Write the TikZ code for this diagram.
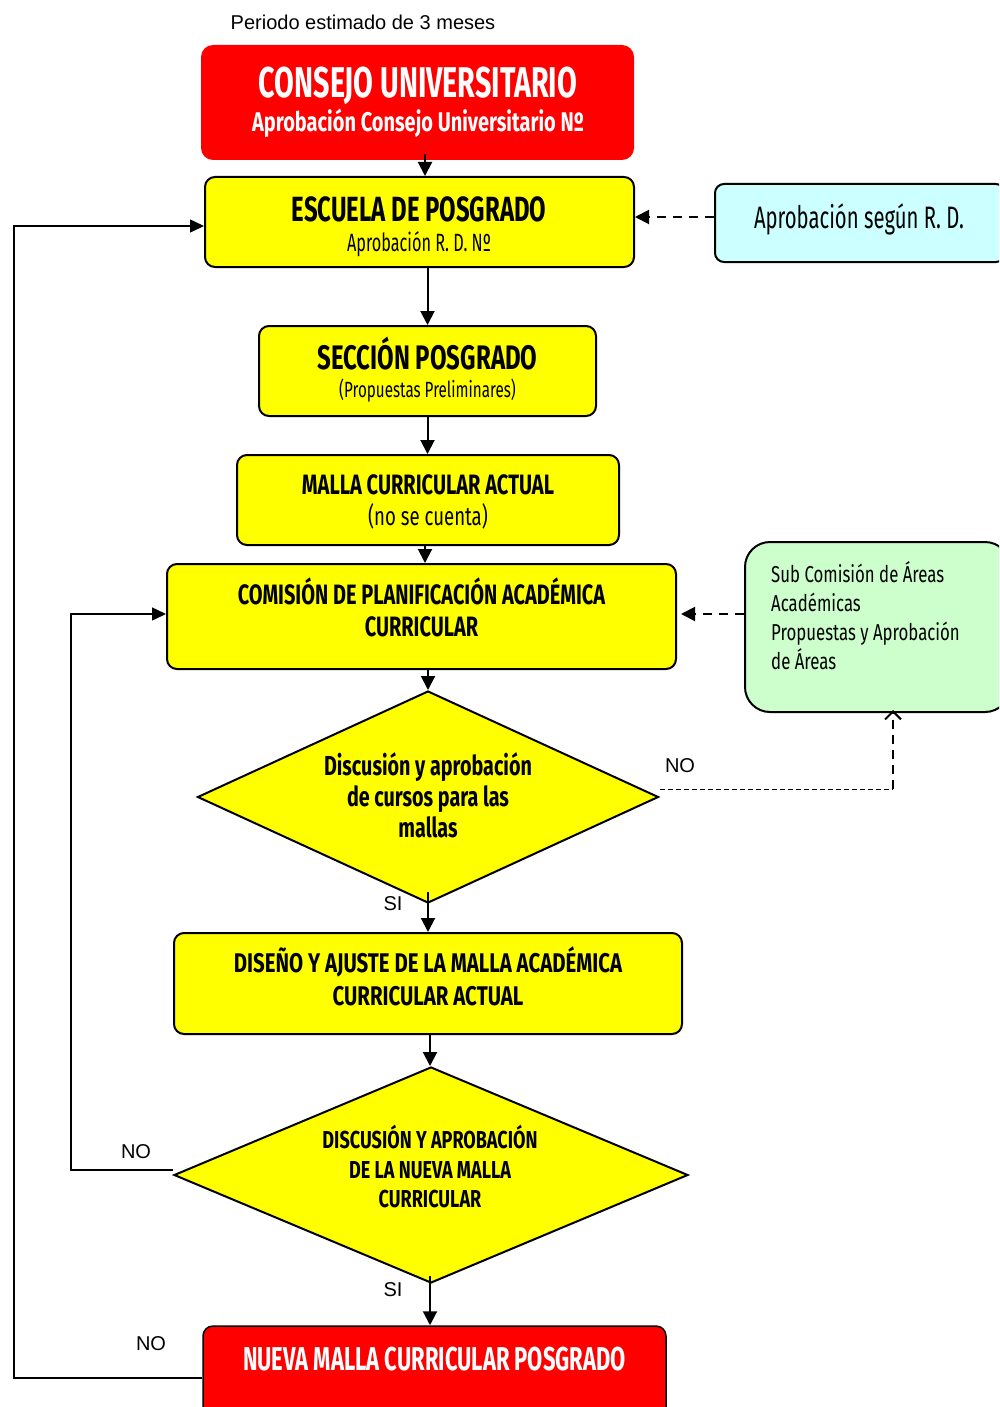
\documentclass[tikz,border=0pt]{standalone}
\usepackage{fontspec}
\setmainfont{Liberation Sans}
\usetikzlibrary{shapes.geometric,arrows.meta}
% condensed heading face: horizontal stretch factor, size
\newcommand\agb[2]{\fontspec{Fira Sans}[FakeStretch=#1]\bfseries\fontsize{#2}{#2}\selectfont}
\newcommand\agr[2]{\fontspec{Fira Sans}[FakeStretch=#1]\fontsize{#2}{#2}\selectfont}
\definecolor{rojo}{HTML}{FF0000}
\definecolor{amarillo}{HTML}{FFFF00}
\definecolor{celeste}{HTML}{CCFFFF}
\definecolor{verde}{HTML}{CCFFCC}
\tikzset{
  box/.style={draw=black, line width=2pt, rounded corners=10pt, fill=amarillo, inner sep=0pt},
  redbox/.style={fill=rojo, rounded corners=12pt, inner sep=0pt},
  sidebox/.style={draw=black, line width=2pt, inner sep=0pt},
  dec/.style={diamond, draw=black, line width=2pt, fill=amarillo, inner sep=0pt},
  txt/.style={anchor=base, inner sep=0pt},
  arr/.style={line width=2pt, -{Triangle[length=14pt,width=14pt]}},
  darr/.style={line width=2pt, dash pattern=on 9pt off 7pt, -{Triangle[length=14pt,width=14pt]}},
  loop/.style={line width=1.5pt, -{Triangle[length=14pt,width=13pt]}},
  lbl/.style={font=\fontsize{20}{24}\selectfont, inner sep=0pt}
}
\begin{document}
\begin{tikzpicture}[x=1pt,y=-1pt]
\useasboundingbox (0,0) rectangle (999,1407);
\begin{scope}
\clip (0,0) rectangle (999,1407);

% title
\node[lbl] (periodo) at (363,22) {Periodo estimado de 3 meses};

% ---- boxes of the main column ----
\node[redbox, minimum width=433pt, minimum height=115pt] (consejo) at (417.5,102.5) {};
\node[txt, text=white] (consejoA) at (418,98) {\agb{0.667}{43}CONSEJO UNIVERSITARIO};
\node[txt, text=white] (consejoB) at (418,132) {\agb{0.74}{27}Aprobación Consejo Universitario Nº};

\node[box, minimum width=429pt, minimum height=90pt] (escuela) at (419.5,222) {};
\node[txt] (escuelaA) at (419,221) {\agb{0.683}{35}ESCUELA DE POSGRADO};
\node[txt] (escuelaB) at (419,251) {\agr{0.65}{25}Aprobación R. D. Nº};

\node[box, minimum width=337pt, minimum height=90pt] (seccion) at (427.5,371) {};
\node[txt] (seccionA) at (427.5,369) {\agb{0.706}{34}SECCIÓN POSGRADO};
\node[txt] (seccionB) at (427.5,397) {\agr{0.69}{22}(Propuestas Preliminares)};

\node[box, minimum width=382pt, minimum height=90pt] (malla) at (428,500) {};
\node[txt] (mallaA) at (428,494) {\agb{0.716}{28}MALLA CURRICULAR ACTUAL};
\node[txt] (mallaB) at (428,525) {\agr{0.715}{26}(no se cuenta)};

\node[box, minimum width=509pt, minimum height=105pt] (comision) at (421.5,616.5) {};
\node[txt] (comisionA) at (421.5,604) {\agb{0.713}{28}COMISIÓN DE PLANIFICACIÓN ACADÉMICA};
\node[txt] (comisionB) at (421.5,636) {\agb{0.713}{28}CURRICULAR};

\node[dec, minimum width=461pt, minimum height=212pt] (d1) at (428,797) {};
\node[txt] (d1A) at (428,775) {\agb{0.718}{27.5}Discusión y aprobación};
\node[txt] (d1B) at (428,806) {\agb{0.718}{27.5}de cursos para las};
\node[txt] (d1C) at (428,837) {\agb{0.718}{27.5}mallas};

\node[box, minimum width=508pt, minimum height=101pt] (diseno) at (428,983.5) {};
\node[txt] (disenoA) at (428,972) {\agb{0.756}{27}DISEÑO Y AJUSTE DE LA MALLA ACADÉMICA};
\node[txt] (disenoB) at (428,1005) {\agb{0.756}{27}CURRICULAR ACTUAL};

\node[dec, minimum width=514pt, minimum height=216pt] (d2) at (431,1175) {};
\node[txt] (d2A) at (430,1148) {\agb{0.737}{24.5}DISCUSIÓN Y APROBACIÓN};
\node[txt] (d2B) at (430,1178) {\agb{0.737}{24.5}DE LA NUEVA MALLA};
\node[txt] (d2C) at (430,1207) {\agb{0.737}{24.5}CURRICULAR};

\node[redbox, draw=black, line width=1.5pt, rounded corners=10pt, minimum width=463pt, minimum height=110pt] (nueva) at (434.5,1381) {};
\node[txt, text=white] (nuevaA) at (434.5,1370) {\agb{0.666}{33}NUEVA MALLA CURRICULAR POSGRADO};

% ---- side boxes ----
\node[sidebox, fill=celeste, rounded corners=9pt, minimum width=290pt, minimum height=78pt] (segun) at (860,223) {};
\node[txt] (segunA) at (859,228) {\agr{0.654}{31}Aprobación según R. D.};

\node[sidebox, fill=verde, rounded corners=25pt, minimum width=265pt, minimum height=170pt] (subcom) at (877.5,627) {};
\node[txt, anchor=base west] (subcomA) at (771,582) {\agr{0.73}{23}Sub Comisión de Áreas};
\node[txt, anchor=base west] (subcomB) at (771,611) {\agr{0.73}{23}Académicas};
\node[txt, anchor=base west] (subcomC) at (771,640) {\agr{0.73}{23}Propuestas y Aprobación};
\node[txt, anchor=base west] (subcomD) at (771,669) {\agr{0.73}{23}de Áreas};

% ---- main flow ----
\draw[arr] ([xshift=7.5pt,yshift=6pt]consejo.south) -- ([xshift=5.5pt]escuela.north);
\draw[arr] (seccion.north |- escuela.south) -- (seccion.north);
\draw[arr] (seccion.south) -- (seccion.south |- malla.north);
\draw[arr] ([xshift=-3pt]malla.south) -- ([xshift=-3pt]malla.south |- comision.north);
\draw[arr] (d1.north |- comision.south) -- (d1.north);
\draw[arr] ([yshift=12pt]d1.south) -- (d1.south |- diseno.north);
\draw[arr] ([xshift=2pt]diseno.south) -- ([xshift=2pt]diseno.south |- d2.north);
\draw[arr] ([xshift=-1pt,yshift=8pt]d2.south) -- ([xshift=-1pt]d2.south |- nueva.north);

% ---- side inputs ----
\draw[darr] ([yshift=6pt]segun.west) -- ([yshift=6pt]segun.west -| escuela.east);
\draw[darr] ([yshift=2.5pt]comision.east -| subcom.west) -- ([xshift=4pt,yshift=2.5pt]comision.east);

% ---- rejection from the first decision ----
\coordinate (c1) at (893,789);
\draw[line width=1pt, dash pattern=on 5pt off 3pt] ([yshift=8pt]d1.east) -- (c1);
\draw[line width=2pt, dash pattern=on 9pt off 6pt, -{Straight Barb[length=8pt,width=16pt]}] (c1) -- ([yshift=3pt]c1 |- subcom.south);

% ---- loops back ----
\coordinate (c2) at (71,1170);
\coordinate (c3) at (71,614);
\draw[loop] ([yshift=5pt]d2.west) -- (c2) -- (c3) -- (c3 -| comision.west);
\coordinate (c4) at (14,1378);
\coordinate (c5) at (14,226);
\draw[loop] (nueva.west |- c4) -- (c4) -- (c5) -- (c5 -| escuela.west);

% ---- branch labels ----
\node[lbl] (no1) at (680,766) {NO};
\node[lbl] (si1) at (393,904) {SI};
\node[lbl] (no2) at (136,1152) {NO};
\node[lbl] (si2) at (393,1290) {SI};
\node[lbl] (no3) at (151,1344) {NO};
\end{scope}
\end{tikzpicture}
\end{document}
